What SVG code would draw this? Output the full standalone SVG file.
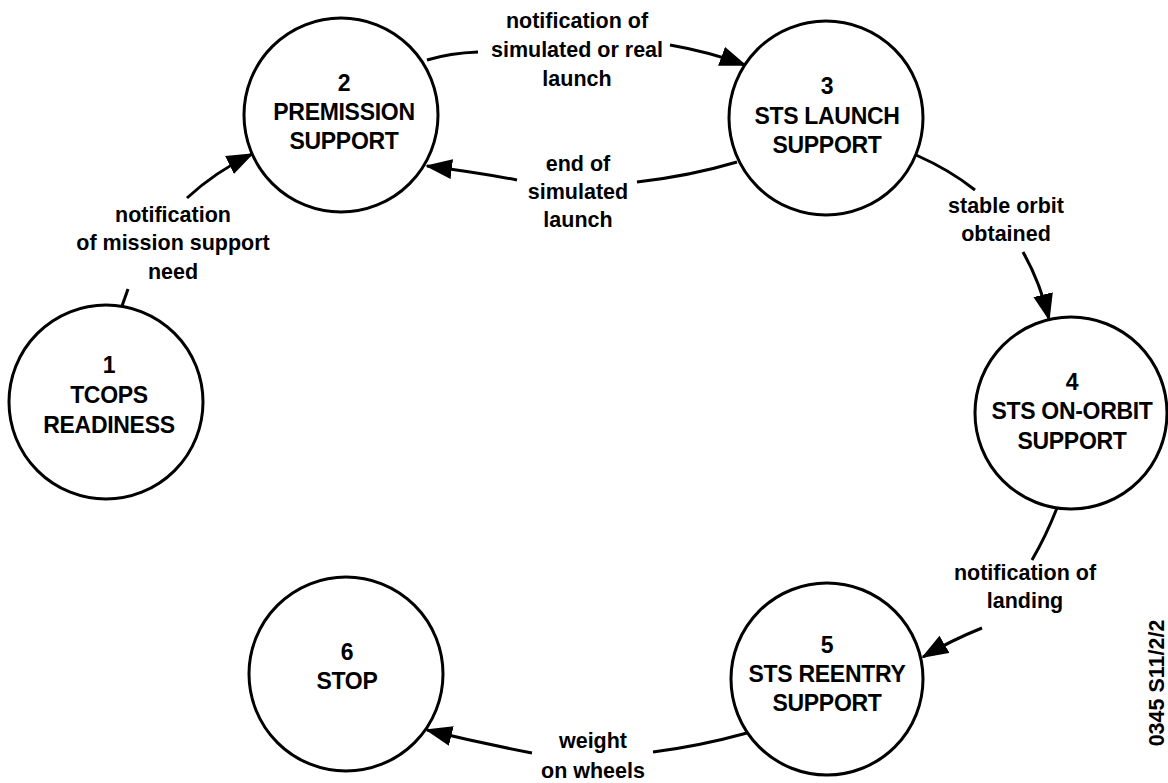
<svg xmlns="http://www.w3.org/2000/svg" width="1168" height="783" viewBox="0 0 1168 783">
<style>
.node circle{fill:#fff;stroke:#000;stroke-width:3}
.nt{font-family:"Liberation Sans",Arial,Helvetica,sans-serif;font-weight:bold;font-size:23px;text-anchor:middle;fill:#000;letter-spacing:-0.3px}
.lt{font-family:"Liberation Sans",Arial,Helvetica,sans-serif;font-weight:bold;font-size:21.5px;text-anchor:middle;fill:#000}
.c{fill:none;stroke:#000;stroke-width:3}
</style>
<defs>
<marker id="arrow" viewBox="0 0 27 20" refX="25" refY="10" markerWidth="27" markerHeight="20" markerUnits="userSpaceOnUse" orient="auto">
<path d="M0,0 L27,10 L0,20 z" fill="#000"/>
</marker>
</defs>
<rect width="1168" height="783" fill="#fff"/>
<g id="connectors">
<path class="c" d="M122,306 L128,289"/>
<path class="c" d="M187,198 Q215,172 252,154" marker-end="url(#arrow)"/>
<path class="c" d="M427,60 Q450,53 478,52"/>
<path class="c" d="M670,45 Q710,52 745,65" marker-end="url(#arrow)"/>
<path class="c" d="M737,162 Q690,176 637,182"/>
<path class="c" d="M517,180 Q475,172 427,166" marker-end="url(#arrow)"/>
<path class="c" d="M916,155 Q950,170 975,190"/>
<path class="c" d="M1023,252 Q1040,282 1049,319" marker-end="url(#arrow)"/>
<path class="c" d="M1057,508 Q1046,536 1032,560"/>
<path class="c" d="M982,628 Q952,640 923,657" marker-end="url(#arrow)"/>
<path class="c" d="M747,733 Q700,746 653,752"/>
<path class="c" d="M532,753 Q480,743 427,730" marker-end="url(#arrow)"/>
</g>
<g id="labels">
<text class="lt" x="173" y="222">notification</text>
<text class="lt" x="173" y="250">of mission support</text>
<text class="lt" x="173" y="279">need</text>
<text class="lt" x="577" y="28">notification of</text>
<text class="lt" x="577" y="57">simulated or real</text>
<text class="lt" x="577" y="86">launch</text>
<text class="lt" x="578" y="171">end of</text>
<text class="lt" x="578" y="199">simulated</text>
<text class="lt" x="578" y="227">launch</text>
<text class="lt" x="1006" y="213">stable orbit</text>
<text class="lt" x="1006" y="241">obtained</text>
<text class="lt" x="1025" y="580">notification of</text>
<text class="lt" x="1025" y="608">landing</text>
<text class="lt" x="593" y="748">weight</text>
<text class="lt" x="593" y="778">on wheels</text>
<text class="lt" transform="translate(1164,683) rotate(-90)" x="0" y="0">0345 S11/2/2</text>
</g>
<g id="node1" class="node">
<circle cx="106" cy="402" r="97"/>
<text class="nt" x="109" y="373">1</text>
<text class="nt" x="109" y="403">TCOPS</text>
<text class="nt" x="109" y="433">READINESS</text>
</g>
<g id="node2" class="node">
<circle cx="341" cy="115" r="97"/>
<text class="nt" x="344" y="91">2</text>
<text class="nt" x="344" y="120">PREMISSION</text>
<text class="nt" x="344" y="149">SUPPORT</text>
</g>
<g id="node3" class="node">
<circle cx="826" cy="118" r="97"/>
<text class="nt" x="827" y="94">3</text>
<text class="nt" x="827" y="124">STS LAUNCH</text>
<text class="nt" x="827" y="153">SUPPORT</text>
</g>
<g id="node4" class="node">
<circle cx="1071" cy="413" r="96"/>
<text class="nt" x="1072" y="390">4</text>
<text class="nt" x="1072" y="419">STS ON-ORBIT</text>
<text class="nt" x="1072" y="449">SUPPORT</text>
</g>
<g id="node5" class="node">
<circle cx="827" cy="679" r="96"/>
<text class="nt" x="827" y="653">5</text>
<text class="nt" x="827" y="682">STS REENTRY</text>
<text class="nt" x="827" y="711">SUPPORT</text>
</g>
<g id="node6" class="node">
<circle cx="346" cy="674" r="97"/>
<text class="nt" x="347" y="660">6</text>
<text class="nt" x="347" y="689">STOP</text>
</g>
</svg>
